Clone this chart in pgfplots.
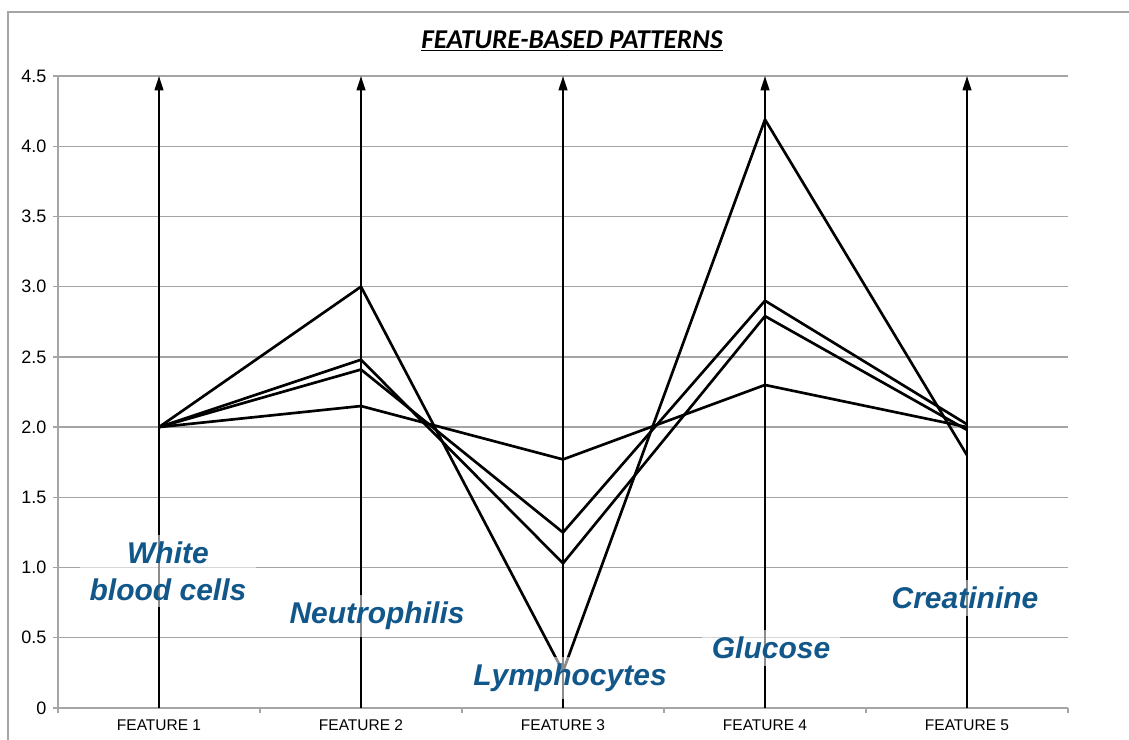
\documentclass[border=0pt]{standalone}
\usepackage{pgfplots}
\pgfplotsset{compat=1.18}
\usepackage{fontspec}
\setmainfont{Liberation Sans}
\newfontfamily\titlefont{Carlito}
\usetikzlibrary{arrows.meta}
\definecolor{lbl}{RGB}{18,87,138}
\definecolor{gridc}{RGB}{165,165,165}
\begin{document}
\begin{tikzpicture}
\useasboundingbox (0,0) rectangle (677.4pt,444pt);
\draw[gridc, line width=0.9pt] (4.8pt,-10pt) -- (4.8pt,436.8pt) -- (700pt,436.8pt);
\node at (343.2pt,419.4pt) {\titlefont\bfseries\itshape\fontsize{16.3}{19}\selectfont\underline{FEATURE-BASED PATTERNS}};
\begin{axis}[
  at={(34.8pt,19.2pt)}, anchor=south west,
  scale only axis, width=606pt, height=379.2pt,
  xmin=-0.5, xmax=4.5, ymin=0, ymax=4.5,
  axis x line*=bottom, axis y line*=left,
  axis line style={gridc, line width=0.8pt, -},
  ytick={0,0.5,1,1.5,2,2.5,3,3.5,4,4.5},
  yticklabels={0,0.5,1.0,1.5,2.0,2.5,3.0,3.5,4.0,4.5},
  xtick={0,1,2,3,4},
  xticklabels={FEATURE 1,FEATURE 2,FEATURE 3,FEATURE 4,FEATURE 5},
  minor xtick={-0.5,0.5,1.5,2.5,3.5,4.5},
  major x tick style={draw=none},
  tick align=outside,
  major tick length=3pt, minor tick length=3pt,
  tick style={gridc, line width=0.8pt},
  ymajorgrids, grid style={gridc, line width=0.8pt},
  xticklabel style={font=\fontsize{9.3}{11}\selectfont, yshift=-0.5pt},
  yticklabel style={font=\fontsize{10.8}{12}\selectfont, xshift=-0.5pt},
  /pgf/number format/assume math mode=true,
  clip=false,
]
\draw[black, line width=1.1pt, -{Triangle[length=8.6pt,width=5.2pt]}] (axis cs:0,0) -- (axis cs:0,4.5);
\draw[black, line width=1.1pt, -{Triangle[length=8.6pt,width=5.2pt]}] (axis cs:1,0) -- (axis cs:1,4.5);
\draw[black, line width=1.1pt, -{Triangle[length=8.6pt,width=5.2pt]}] (axis cs:2,0) -- (axis cs:2,4.5);
\draw[black, line width=1.1pt, -{Triangle[length=8.6pt,width=5.2pt]}] (axis cs:3,0) -- (axis cs:3,4.5);
\draw[black, line width=1.1pt, -{Triangle[length=8.6pt,width=5.2pt]}] (axis cs:4,0) -- (axis cs:4,4.5);
\addplot[black, line width=1.6pt] coordinates {(0,2.0) (1,3.0) (2,0.26) (3,4.19) (4,1.80)};
\addplot[black, line width=1.6pt] coordinates {(0,2.0) (1,2.48) (2,1.03) (3,2.79) (4,1.98)};
\addplot[black, line width=1.6pt] coordinates {(0,2.0) (1,2.41) (2,1.25) (3,2.90) (4,2.02)};
\addplot[black, line width=1.6pt] coordinates {(0,2.0) (1,2.15) (2,1.77) (3,2.30) (4,2.00)};
\end{axis}
\tikzset{lab/.style={fill=white, fill opacity=0.55, text opacity=1, text=lbl, font=\bfseries\itshape\fontsize{18}{22}\selectfont, inner xsep=6pt, inner ysep=4pt}}
\node[lab, align=center] at (100.8pt,101.4pt) {White\\blood cells};
\node[lab] at (226.2pt,74.4pt) {Neutrophilis};
\node[lab] at (342pt,37.2pt) {Lymphocytes};
\node[lab] at (462.6pt,55.2pt) {Glucose};
\node[lab] at (579pt,85.2pt) {Creatinine};
\end{tikzpicture}
\end{document}
